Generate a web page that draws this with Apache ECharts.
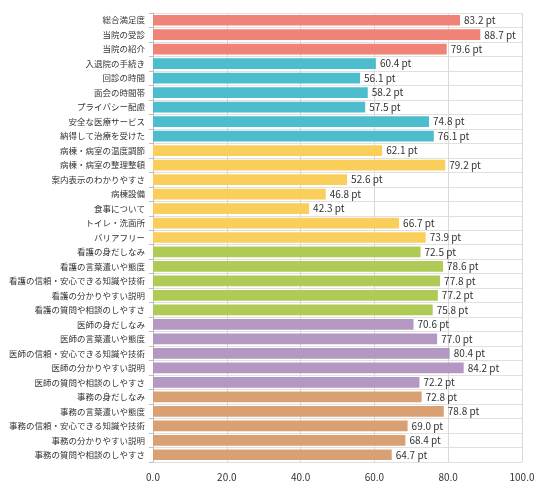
<!DOCTYPE html>
<html><head><meta charset="utf-8">
<script src="https://cdn.jsdelivr.net/npm/echarts@6/dist/echarts.min.js"></script>
<style>html,body{margin:0;padding:0;background:#fff}#c{width:540px;height:490px}</style>
</head><body><div id="c"></div>
<script>
const categories = ["総合満足度","当院の受診","当院の紹介","入退院の手続き","回診の時間","面会の時間帯","プライバシー配慮","安全な医療サービス","納得して治療を受けた","病棟・病室の温度調節","病棟・病室の整理整頓","案内表示のわかりやすさ","病棟設備","食事について","トイレ・洗面所","バリアフリー","看護の身だしなみ","看護の言葉遣いや態度","看護の信頼・安心できる知識や技術","看護の分かりやすい説明","看護の質問や相談のしやすさ","医師の身だしなみ","医師の言葉遣いや態度","医師の信頼・安心できる知識や技術","医師の分かりやすい説明","医師の質問や相談のしやすさ","事務の身だしなみ","事務の言葉遣いや態度","事務の信頼・安心できる知識や技術","事務の分かりやすい説明","事務の質問や相談のしやすさ"];
const values = [83.2,88.7,79.6,60.4,56.1,58.2,57.5,74.8,76.1,62.1,79.2,52.6,46.8,42.3,66.7,73.9,72.5,78.6,77.8,77.2,75.8,70.6,77.0,80.4,84.2,72.2,72.8,78.8,69.0,68.4,64.7];
const groups = [0,0,0,1,1,1,1,1,1,2,2,2,2,2,2,2,3,3,3,3,3,4,4,4,4,4,5,5,5,5,5];
const groupColors = ["#F08378","#4BBDCC","#F9CE5B","#AFCB55","#B597C4","#D9A173"];
const xTicks = [0,20,40,60,80,100];

const font = "'Noto Sans CJK JP', sans-serif";
const chart = echarts.init(document.getElementById('c'), null, {renderer:'canvas'});
chart.setOption({
  animation:false,
  grid:{left:153,right:18,top:13,bottom:28,containLabel:false},
  xAxis:{type:'value',min:xTicks[0],max:xTicks[xTicks.length-1],interval:20,
    axisLine:{show:false},axisTick:{show:false},
    axisLabel:{formatter:v=>v.toFixed(1),color:'#333',fontSize:10,fontFamily:font,margin:10},
    splitLine:{show:true,lineStyle:{color:'#d9d9d9',width:1}}},
  yAxis:{type:'category',inverse:true,data:categories,
    axisLine:{show:true,lineStyle:{color:'#bfbfbf'}},
    axisTick:{show:true,length:4,lineStyle:{color:'#bfbfbf'}},
    axisLabel:{color:'#333',fontSize:8.5,fontFamily:font,margin:8},
    splitLine:{show:true,lineStyle:{color:'#e0e0e0'}}},
  series:[{type:'bar',barCategoryGap:'26%',
    data:values.map((v,i)=>({value:v,itemStyle:{color:groupColors[groups[i]]}})),
    label:{show:true,position:'right',distance:4,formatter:p=>p.value.toFixed(1)+' pt',color:'#333',fontSize:10,fontFamily:font}
  }]
});
</script></body></html>
